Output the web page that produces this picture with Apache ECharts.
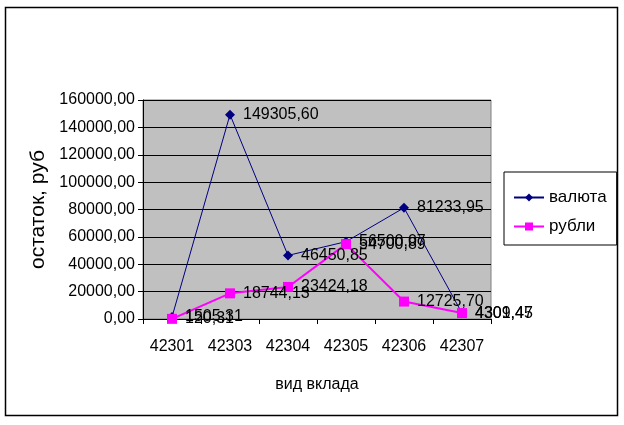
<!DOCTYPE html>
<html>
<head>
<meta charset="utf-8">
<script src="https://cdn.jsdelivr.net/npm/echarts@6/dist/echarts.min.js"></script>
<style>
  html, body { margin: 0; padding: 0; background: #fff; }
  #chart { width: 624px; height: 425px; }
</style>
</head>
<body>
<div id="chart"></div>
<script>
// вид вклада
var categories = ['42301', '42303', '42304', '42305', '42306', '42307'];
var valuta = [1505.31, 149305.60, 46450.85, 56500.07, 81233.95, 4301.47];
var rubli = [120.31, 18744.13, 23424.18, 54700.89, 12725.70, 4309.45];
var yTicks = { min: 0, max: 160000, step: 20000 };

function fmt(v) {
    return v.toFixed(2).replace('.', ',');
}

var font = '"Liberation Sans", Arial, sans-serif';
var fs = 16;

var myChart = echarts.init(document.getElementById('chart'));

function labelOpt() {
    return {
        show: true,
        position: 'right',
        distance: 8,
        fontFamily: font,
        fontSize: fs,
        color: '#000',
        formatter: function (p) { return fmt(p.value); }
    };
}

var option = {
    backgroundColor: '#fff',
    animation: false,
    textStyle: { fontFamily: font },
    graphic: [
        {
            type: 'rect',
            shape: { x: 5.5, y: 7.5, width: 612, height: 408 },
            style: { fill: 'none', stroke: '#000', lineWidth: 1.5 }
        }
    ],
    legend: {
        orient: 'vertical',
        left: 504,
        top: 172,
        padding: [17, 10, 10, 9],
        itemGap: 12,
        itemWidth: 30,
        itemHeight: 10,
        borderColor: '#000',
        borderWidth: 1,
        backgroundColor: '#fff',
        textStyle: { fontFamily: font, fontSize: 17, color: '#000', padding: [0, 0, 0, 0] },
        data: ['валюта', 'рубли']
    },
    grid: {
        left: 143,
        right: 133,
        top: 100,
        bottom: 106,
        show: true,
        backgroundColor: '#c0c0c0',
        borderColor: '#808080',
        borderWidth: 1
    },
    xAxis: {
        type: 'category',
        data: categories,
        boundaryGap: true,
        name: 'вид вклада',
        nameLocation: 'middle',
        nameGap: 58,
        nameTextStyle: { fontFamily: font, fontSize: fs, color: '#000' },
        axisLine: { lineStyle: { color: '#000', width: 1 } },
        axisTick: { show: true, length: 5, interval: 0, lineStyle: { color: '#000' } },
        axisLabel: { fontFamily: font, fontSize: fs, color: '#000', margin: 20, interval: 0 }
    },
    yAxis: {
        type: 'value',
        min: yTicks.min,
        max: yTicks.max,
        interval: yTicks.step,
        name: 'остаток, руб',
        nameLocation: 'middle',
        nameGap: 90,
        nameTextStyle: { fontFamily: font, fontSize: 21, color: '#000' },
        axisLine: { show: true, lineStyle: { color: '#000', width: 1 } },
        axisTick: { show: true, length: 5, lineStyle: { color: '#000' } },
        axisLabel: {
            fontFamily: font, fontSize: fs, color: '#000', margin: 8,
            formatter: function (v) { return fmt(v); }
        },
        splitLine: { show: true, lineStyle: { color: '#000', width: 1 } }
    },
    series: [
        {
            name: 'валюта',
            type: 'line',
            data: valuta,
            symbol: 'diamond',
            symbolSize: 10,
            itemStyle: { color: '#000080' },
            lineStyle: { color: '#000080', width: 1 },
            label: labelOpt()
        },
        {
            name: 'рубли',
            type: 'line',
            data: rubli,
            symbol: 'rect',
            symbolSize: 10,
            itemStyle: { color: '#ff00ff' },
            lineStyle: { color: '#ff00ff', width: 2 },
            label: labelOpt()
        }
    ]
};
myChart.setOption(option);
</script>
</body>
</html>
